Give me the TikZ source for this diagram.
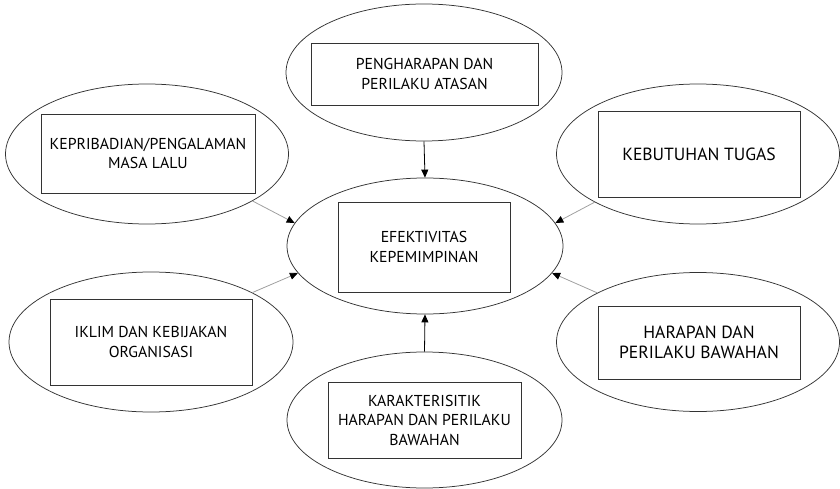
\documentclass[tikz,border=0pt]{standalone}
\usepackage{fontspec}
\setmainfont{PT Sans}
\usetikzlibrary{shapes.geometric,arrows.meta}
\definecolor{edge}{HTML}{333333}
\definecolor{conn}{HTML}{A0A0A0}
\tikzset{
  oval/.style={draw=edge, line width=0.75pt, ellipse, inner sep=0pt},
  box/.style={draw=edge, line width=0.85pt, rectangle, inner sep=0pt, align=center, text=black},
  txt/.style={font=\fontsize{15.8}{19.5}\selectfont},
  bigtxt/.style={font=\fontsize{17.6}{20.5}\selectfont},
  grayarr/.style={draw=conn, line width=0.8pt, -{Triangle[length=8pt,width=7pt,fill=black,color=black]}},
  blackarr/.style={draw=black, line width=0.8pt, -{Triangle[length=8pt,width=7pt,fill=black]}}
}
\begin{document}
\begin{tikzpicture}[x=1pt,y=-1pt]
\useasboundingbox (0,0) rectangle (840,489);
% ellipses
\node[oval, minimum width=276pt, minimum height=137pt] (top) at (424,72.5) {};
\node[oval, minimum width=276pt, minimum height=136pt] (ctr) at (425,246) {};
\node[oval, minimum width=283pt, minimum height=140pt] (lt) at (147,154) {};
\node[oval, minimum width=283pt, minimum height=140pt] (rt) at (698,154) {};
\node[oval, minimum width=284pt, minimum height=140pt] (lb) at (151,342) {};
\node[oval, minimum width=283pt, minimum height=139pt] (rb) at (698,342) {};
\node[oval, minimum width=275pt, minimum height=136pt] (bot) at (424.5,420) {};
% boxes
\node[box, txt, minimum width=227pt, minimum height=62pt] (topbox) at (424.5,74) {PENGHARAPAN DAN\\PERILAKU ATASAN};
\node[box, txt, minimum width=172pt, minimum height=90pt] (ctrbox) at (424,247) {EFEKTIVITAS\\KEPEMIMPINAN};
\node[box, txt, minimum width=214pt, minimum height=79pt] (ltbox) at (148,153.5) {KEPRIBADIAN/PENGALAMAN\\MASA LALU};
\node[box, bigtxt, minimum width=202pt, minimum height=86pt] (rtbox) at (699,154) {KEBUTUHAN TUGAS};
\node[box, txt, minimum width=202pt, minimum height=86pt] (lbbox) at (151,342) {IKLIM DAN KEBIJAKAN\\ORGANISASI};
\node[box, bigtxt, minimum width=202pt, minimum height=73pt] (rbbox) at (699,342.5) {HARAPAN DAN\\PERILAKU BAWAHAN};
\node[box, txt, minimum width=193pt, minimum height=76pt] (botbox) at (424.5,420) {KARAKTERISITIK\\HARAPAN DAN PERILAKU\\BAWAHAN};
% connectors
\draw[blackarr] (top.south) -- (ctr.north);
\draw[blackarr] (bot.north) -- (ctr.south);
\draw[grayarr] (lt.-24) -- (ctr.170);
\draw[grayarr] (rt.205) -- (ctr.10);
\draw[grayarr] (lb.26) -- (ctr.192);
\draw[grayarr] (rb.154) -- (ctr.348);
\end{tikzpicture}
\end{document}
